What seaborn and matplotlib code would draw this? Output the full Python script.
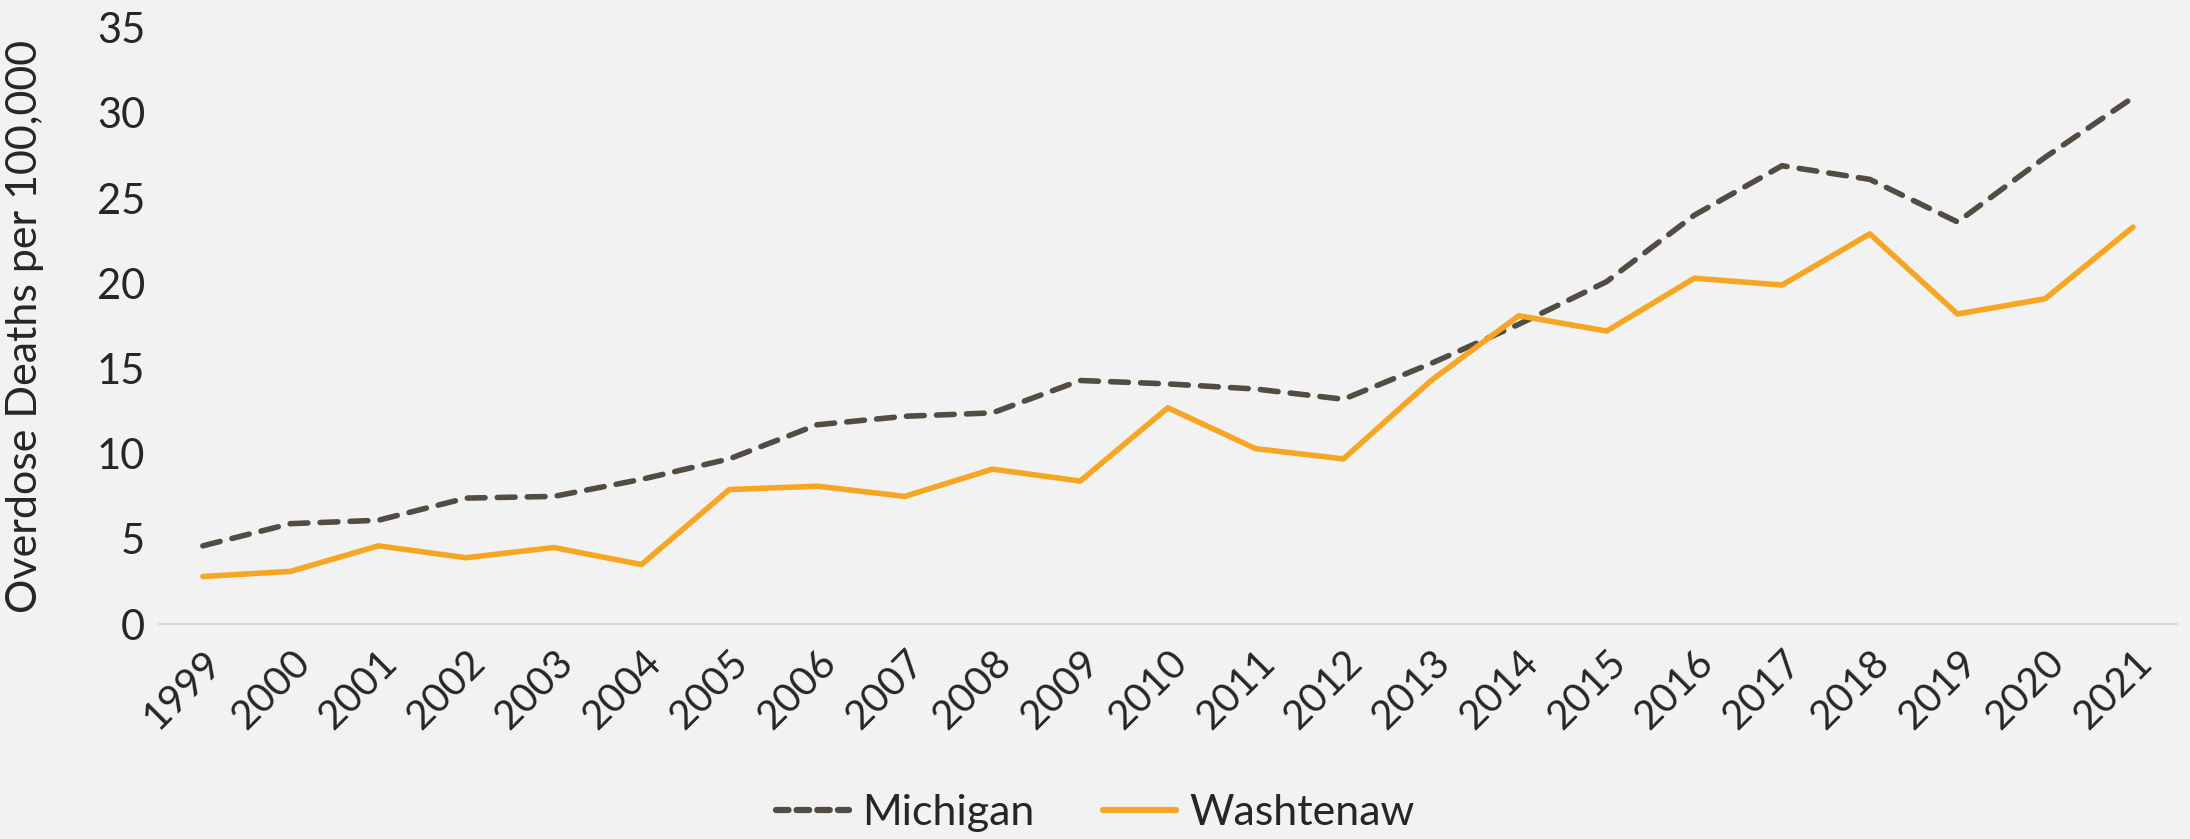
import pandas as pd
import matplotlib.pyplot as plt
import seaborn as sns

years = [str(y) for y in range(1999, 2022)]
michigan = [4.6, 5.9, 6.1, 7.4, 7.5, 8.5, 9.7, 11.7, 12.2, 12.4, 14.3, 14.1, 13.8, 13.2,
            15.3, 17.6, 20.1, 24.0, 26.9, 26.1, 23.6, 27.4, 30.9]
washtenaw = [2.8, 3.1, 4.6, 3.9, 4.5, 3.5, 7.9, 8.1, 7.5, 9.1, 8.4, 12.7, 10.3, 9.7,
             14.3, 18.1, 17.2, 20.3, 19.9, 22.9, 18.2, 19.1, 23.3]
series_names = ["Michigan", "Washtenaw"]
y_ticks = [0, 5, 10, 15, 20, 25, 30, 35]

df = pd.DataFrame({
    "idx": list(range(len(years))) * 2,
    "rate": michigan + washtenaw,
    "area": [series_names[0]] * len(years) + [series_names[1]] * len(years),
})

sns.set_style("white")
plt.rcParams["font.family"] = ["Lato", "DejaVu Sans"]

bg = "#F2F2F2"
fig = plt.figure(figsize=(21.9, 8.39), dpi=100, facecolor=bg)
ax = fig.add_axes([0.0726, 0.256, 0.9214, 0.711])
ax.set_facecolor(bg)

sns.lineplot(data=df, x="idx", y="rate", hue="area", style="area",
             palette={"Michigan": "#524C42", "Washtenaw": "#F6A623"},
             dashes={"Michigan": (3.2, 2.2), "Washtenaw": ""},
             linewidth=4.0, ax=ax, legend=False)
ax.lines[0].set_dash_capstyle("round")
ax.lines[1].set_solid_capstyle("round")

ax.set_xlim(-0.5, len(years) - 0.5)
ax.set_ylim(0, 35)
ax.set_yticks(y_ticks)
ax.set_yticklabels([str(t) for t in y_ticks], fontsize=30)
ax.set_xticks(range(len(years)))
ax.set_xticklabels(years, fontsize=29, rotation=45, ha="right", rotation_mode="anchor")
ax.tick_params(axis="both", length=0, pad=10)
ax.tick_params(axis="x", pad=14)
ax.set_xlabel("")
ax.set_ylabel("Overdose Deaths per 100,000", fontsize=31)
ax.yaxis.set_label_coords(-0.057, 0.5)

for side in ["top", "right", "left"]:
    ax.spines[side].set_visible(False)
ax.spines["bottom"].set_color("#D9D9D9")
ax.spines["bottom"].set_linewidth(1.5)

handles = [
    plt.Line2D([], [], color="#524C42", lw=4.5, dashes=(2.0, 1.3), dash_capstyle="round"),
    plt.Line2D([], [], color="#F6A623", lw=4.5, solid_capstyle="round"),
]
fig.legend(handles, series_names, loc="center", bbox_to_anchor=(0.5, 0.031), ncol=2,
           frameon=False, fontsize=31, handlelength=1.7, handletextpad=0.3, columnspacing=1.6)

plt.savefig("out.png", dpi=100, facecolor=bg)
plt.close()
